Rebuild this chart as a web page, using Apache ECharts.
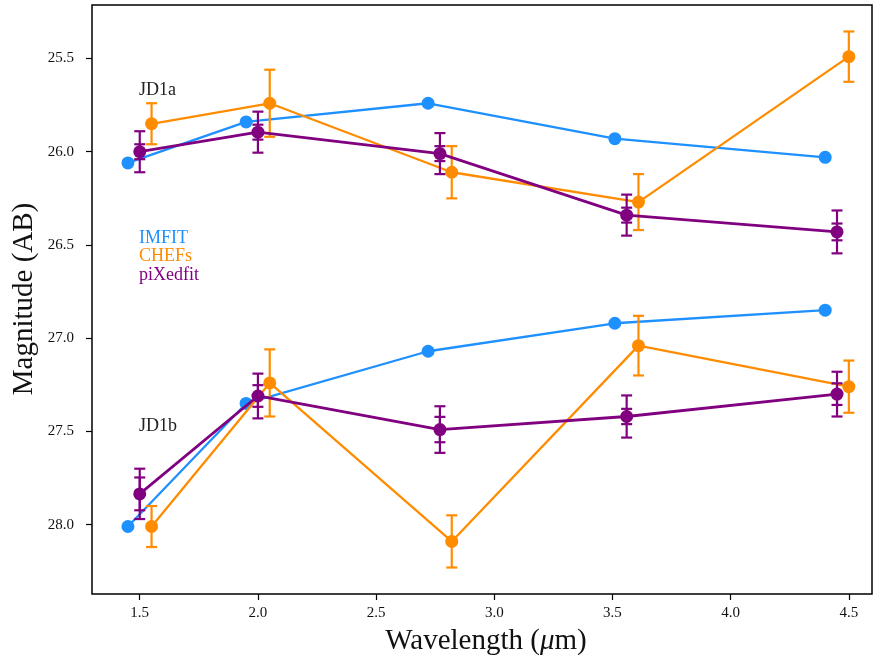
<!DOCTYPE html>
<html>
<head>
<meta charset="utf-8">
<script src="https://cdn.jsdelivr.net/npm/echarts@6/dist/echarts.min.js"></script>
<style>
  html, body { margin: 0; padding: 0; background: #fff; }
  #chart { width: 873px; height: 660px; }
</style>
</head>
<body>
<div id="chart"></div>
<script>
// ---- Data ----
const xTicks = [1.5, 2.0, 2.5, 3.0, 3.5, 4.0, 4.5];
const yTicks = [25.5, 26.0, 26.5, 27.0, 27.5, 28.0];

const wlIMFIT = [1.45, 1.95, 2.72, 3.51, 4.40];
const wlCHEFs = [1.55, 2.05, 2.82, 3.61, 4.50];
const wlPix   = [1.50, 2.00, 2.77, 3.56, 4.45];

const imfitJD1a = [26.06, 25.84, 25.74, 25.93, 26.03];
const imfitJD1b = [28.01, 27.35, 27.07, 26.92, 26.85];

const chefsJD1a    = [25.85, 25.74, 26.11, 26.27, 25.49];
const chefsJD1aErr = [0.11, 0.18, 0.14, 0.15, 0.135];
const chefsJD1b    = [28.01, 27.24, 28.09, 27.04, 27.26];
const chefsJD1bErr = [0.11, 0.18, 0.14, 0.16, 0.14];

const pixJD1a         = [26.00, 25.895, 26.01, 26.34, 26.43];
const pixJD1aErrOuter = [0.11, 0.11, 0.11, 0.11, 0.115];
const pixJD1aErrInner = [0.04, 0.04, 0.04, 0.04, 0.045];
const pixJD1b         = [27.835, 27.31, 27.49, 27.42, 27.30];
const pixJD1bErrOuter = [0.135, 0.12, 0.125, 0.113, 0.12];
const pixJD1bErrInner = [0.088, 0.058, 0.068, 0.041, 0.058];

const methodNames  = ['IMFIT', 'CHEFs', 'piXedfit'];
const objectNames  = ['JD1a', 'JD1b'];

// ---- Styles ----
const BLUE = '#1E90FF', ORANGE = '#FF8C00', PURPLE = '#800080';
const FONT = 'Liberation Serif';

function pairs(xs, ys) { return xs.map((x, i) => [x, ys[i]]); }
function triples(xs, ys, es) { return xs.map((x, i) => [x, ys[i], es[i]]); }

function lineSeries(name, xs, ys, color, z, lw) {
  return {
    type: 'line', name: name, data: pairs(xs, ys), z: z,
    symbol: 'circle', symbolSize: 13, showSymbol: true,
    lineStyle: { color: color, width: lw },
    itemStyle: { color: color },
    silent: true, animation: false
  };
}

function errSeries(xs, ys, es, color, z) {
  return {
    type: 'custom', data: triples(xs, ys, es), z: z, silent: true, animation: false,
    renderItem: function (params, api) {
      const x = api.value(0), y = api.value(1), e = api.value(2);
      const t = api.coord([x, y - e]);
      const b = api.coord([x, y + e]);
      const hw = 5.5;
      const st = { stroke: color, lineWidth: 2.2 };
      return {
        type: 'group',
        children: [
          { type: 'line', shape: { x1: t[0], y1: t[1], x2: b[0], y2: b[1] }, style: st },
          { type: 'line', shape: { x1: t[0] - hw, y1: t[1], x2: t[0] + hw, y2: t[1] }, style: st },
          { type: 'line', shape: { x1: b[0] - hw, y1: b[1], x2: b[0] + hw, y2: b[1] }, style: st }
        ]
      };
    }
  };
}

const chart = echarts.init(document.getElementById('chart'), null, { renderer: 'canvas' });

const option = {
  animation: false,
  backgroundColor: '#fff',
  grid: {
    left: 92, top: 5, width: 780, height: 589,
    show: true, borderColor: '#000', borderWidth: 1.5, backgroundColor: 'transparent'
  },
  xAxis: {
    type: 'value', min: 1.298, max: 4.598,
    axisLine: { show: false },
    splitLine: { show: false },
    axisTick: { show: true, customValues: xTicks, length: 6, lineStyle: { color: '#000', width: 1.2 } },
    axisLabel: {
      customValues: xTicks, margin: 12, color: '#111',
      fontFamily: FONT, fontSize: 15,
      formatter: v => Number(v).toFixed(1)
    }
  },
  yAxis: {
    type: 'value', inverse: true, min: 25.213, max: 28.372,
    axisLine: { show: false },
    splitLine: { show: false },
    axisTick: { show: true, customValues: yTicks, length: 6, lineStyle: { color: '#000', width: 1.2 } },
    axisLabel: {
      customValues: yTicks, margin: 18, color: '#111',
      fontFamily: FONT, fontSize: 15,
      formatter: v => Number(v).toFixed(1)
    }
  },
  graphic: [
    { type: 'text', left: 139, top: 81, silent: true,
      style: { text: objectNames[0], fill: '#222', font: '18px ' + FONT } },
    { type: 'text', left: 139, top: 417, silent: true,
      style: { text: objectNames[1], fill: '#222', font: '18px ' + FONT } },
    { type: 'text', left: 139, top: 229, silent: true,
      style: { text: methodNames[0], fill: BLUE, font: '18px ' + FONT } },
    { type: 'text', left: 139, top: 247, silent: true,
      style: { text: methodNames[1], fill: ORANGE, font: '18px ' + FONT } },
    { type: 'text', left: 139, top: 266, silent: true,
      style: { text: methodNames[2], fill: PURPLE, font: '18px ' + FONT } },
    { type: 'text', x: 486, y: 641, silent: true,
      style: {
        text: '{n|Wavelength (}{i|μ}{n|m)}', align: 'center', verticalAlign: 'middle',
        rich: {
          n: { fontFamily: FONT, fontSize: 29, fill: '#111' },
          i: { fontFamily: FONT, fontSize: 29, fontStyle: 'italic', fill: '#111' }
        }
      } },
    { type: 'text', x: 24, y: 299, rotation: Math.PI / 2, silent: true,
      style: { text: 'Magnitude (AB)', align: 'center', verticalAlign: 'middle',
               fill: '#111', font: '29px ' + FONT } }
  ],
  series: [
    lineSeries('IMFIT JD1a', wlIMFIT, imfitJD1a, BLUE, 10, 2.3),
    lineSeries('IMFIT JD1b', wlIMFIT, imfitJD1b, BLUE, 10, 2.3),
    errSeries(wlCHEFs, chefsJD1a, chefsJD1aErr, ORANGE, 20),
    errSeries(wlCHEFs, chefsJD1b, chefsJD1bErr, ORANGE, 20),
    lineSeries('CHEFs JD1a', wlCHEFs, chefsJD1a, ORANGE, 21, 2.3),
    lineSeries('CHEFs JD1b', wlCHEFs, chefsJD1b, ORANGE, 21, 2.3),
    errSeries(wlPix, pixJD1a, pixJD1aErrOuter, PURPLE, 30),
    errSeries(wlPix, pixJD1b, pixJD1bErrOuter, PURPLE, 30),
    errSeries(wlPix, pixJD1a, pixJD1aErrInner, PURPLE, 30),
    errSeries(wlPix, pixJD1b, pixJD1bErrInner, PURPLE, 30),
    lineSeries('piXedfit JD1a', wlPix, pixJD1a, PURPLE, 31, 2.8),
    lineSeries('piXedfit JD1b', wlPix, pixJD1b, PURPLE, 31, 2.8)
  ]
};

chart.setOption(option);
</script>
</body>
</html>
